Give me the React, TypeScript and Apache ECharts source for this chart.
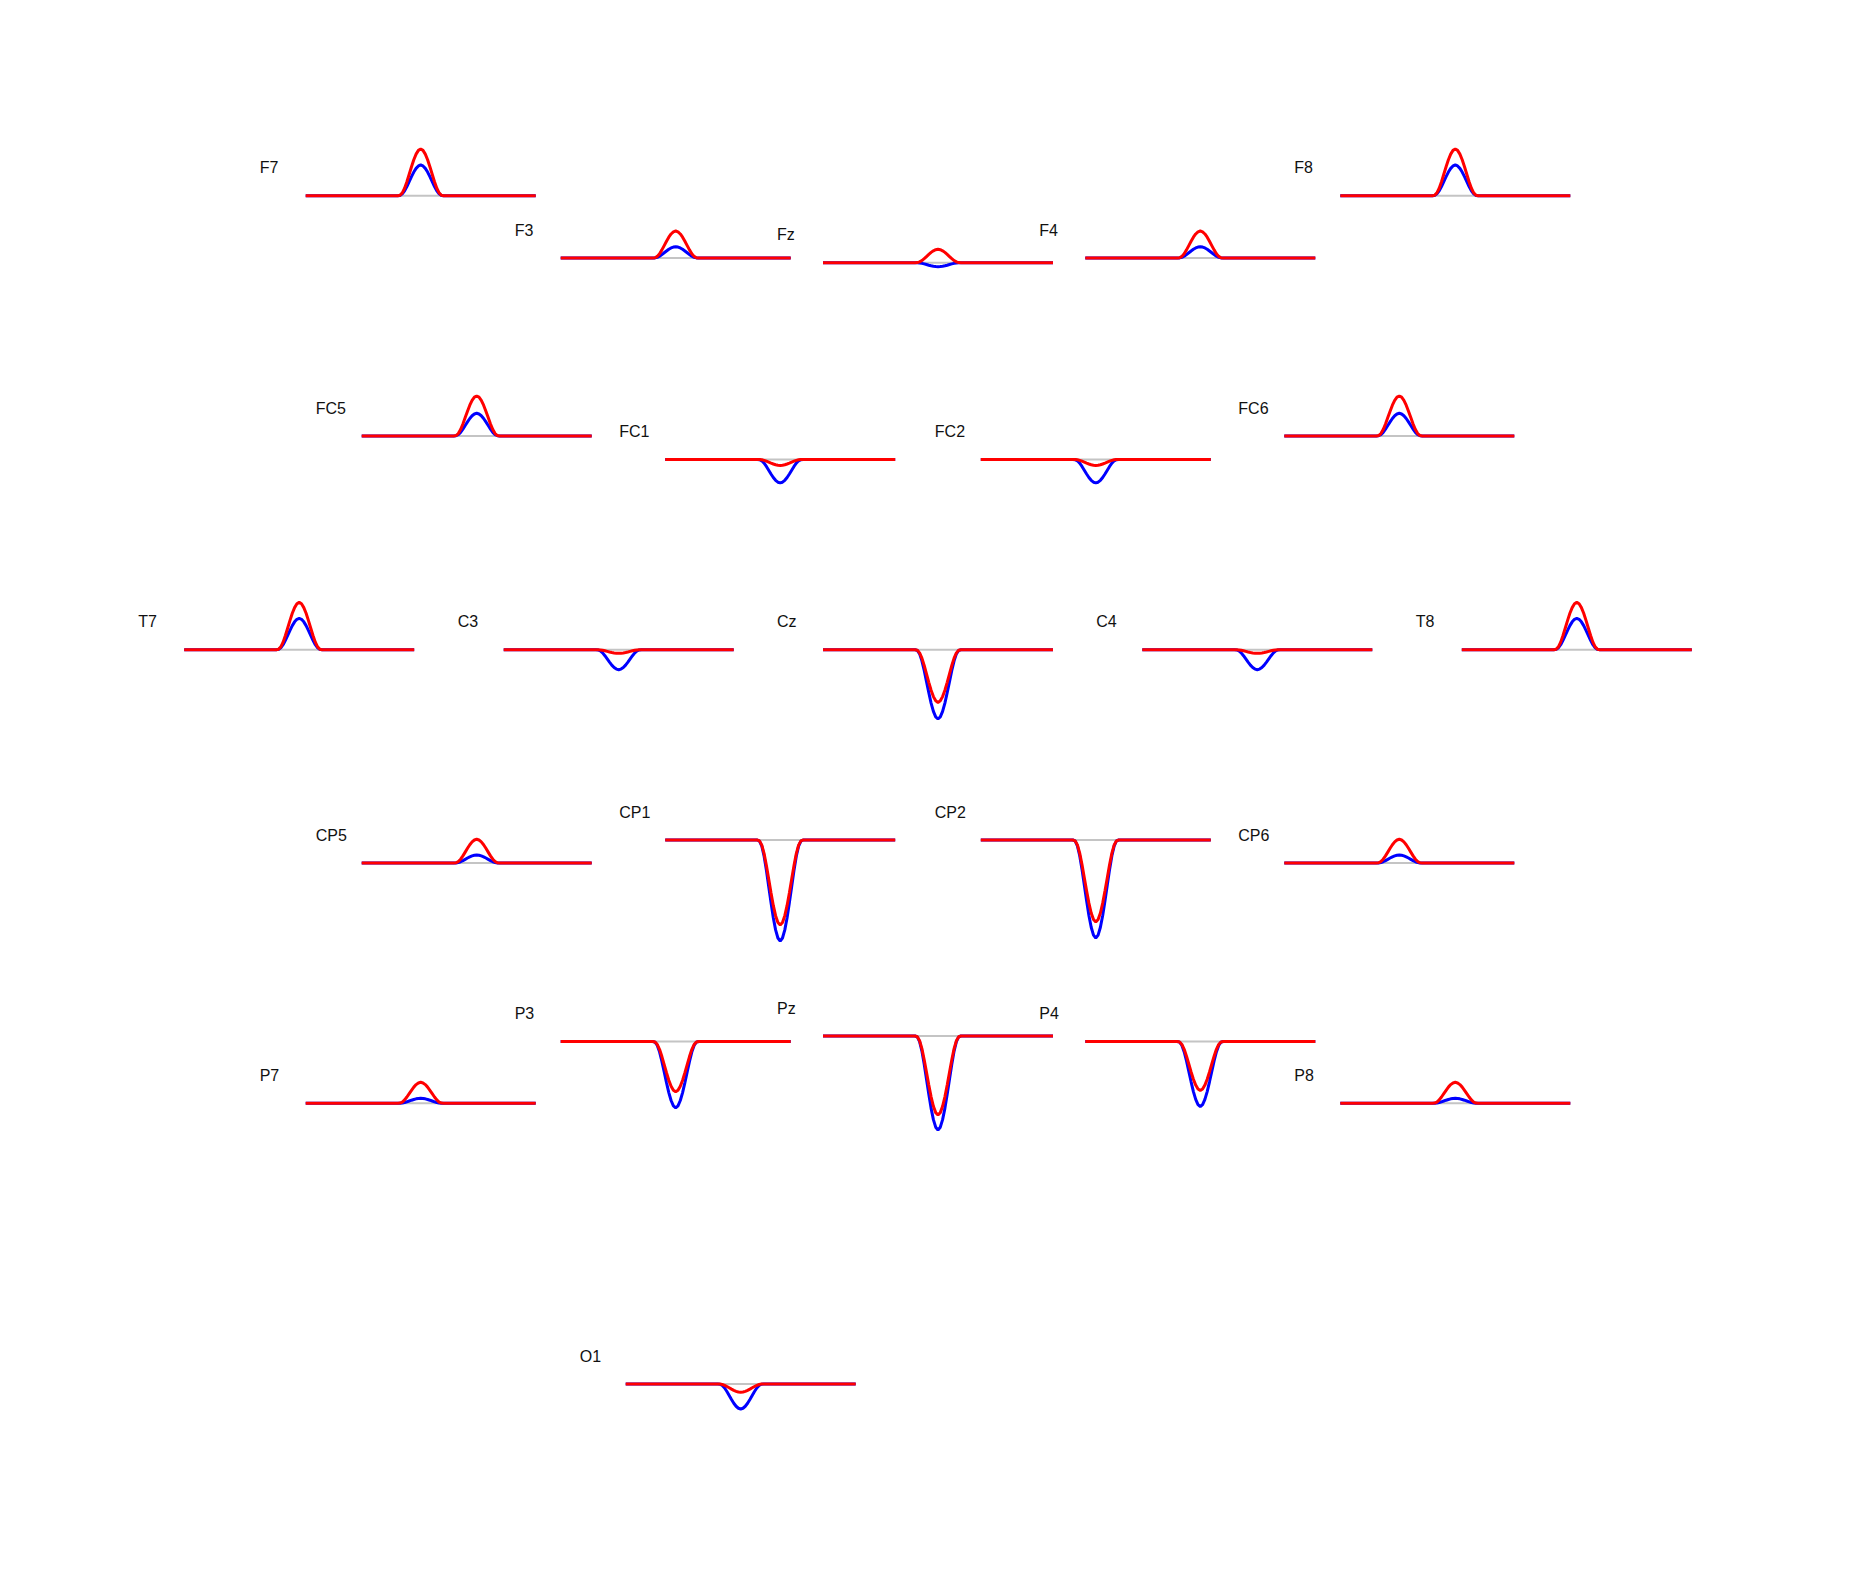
import React, { useEffect, useRef } from "react";
import * as echarts from "echarts";

// Channel names
const channels = [
  "F7", "F3", "Fz", "F4", "F8",
  "FC5", "FC1", "FC2", "FC6",
  "T7", "C3", "Cz", "C4", "T8",
  "CP5", "CP1", "CP2", "CP6",
  "P7", "P3", "Pz", "P4", "P8",
  "O1",
];

// Peak amplitude (µV) of each waveform
const redPeak = [
  4.67, 2.7, 1.34, 2.7, 4.67,
  4.0, -0.6, -0.6, 4.0,
  4.73, -0.36, -5.27, -0.36, 4.73,
  2.37, -8.5, -8.2, 2.37,
  2.1, -5.03, -7.9, -4.9, 2.1,
  -0.83,
];
const bluePeak = [
  3.07, 1.13, -0.4, 1.13, 3.07,
  2.27, -2.35, -2.35, 2.27,
  3.13, -2.0, -6.93, -2.0, 3.13,
  0.8, -10.1, -9.8, 0.8,
  0.5, -6.63, -9.4, -6.5, 0.5,
  -2.5,
];

// Time samples (s) and normalised waveform shape
const times = [
  -1, -0.2, -0.18, -0.16, -0.14, -0.12, -0.1, -0.08, -0.06, -0.04, -0.02,
  0, 0.02, 0.04, 0.06, 0.08, 0.1, 0.12, 0.14, 0.16, 0.18, 0.2, 1,
];
const shape = [
  0, 0, 0.01, 0.06, 0.16, 0.3, 0.46, 0.62, 0.77, 0.89, 0.97,
  1, 0.97, 0.89, 0.77, 0.62, 0.46, 0.3, 0.16, 0.06, 0.01, 0, 0,
];

// Layout: subplot centre x and baseline y (page px)
const layout: Record<string, [number, number]> = {
  F7: [420.7, 195.7], F3: [675.7, 258], Fz: [938, 262.7], F4: [1200.3, 258], F8: [1455.3, 195.7],
  FC5: [476.7, 436], FC1: [780.2, 459.4], FC2: [1095.8, 459.4], FC6: [1399.3, 436],
  T7: [299.2, 649.7], C3: [618.7, 649.7], Cz: [938, 649.7], C4: [1257.3, 649.7], T8: [1576.8, 649.7],
  CP5: [476.7, 863], CP1: [780.2, 840], CP2: [1095.8, 840], CP6: [1399.3, 863],
  P7: [420.7, 1103.3], P3: [675.7, 1041.5], Pz: [938, 1036], P4: [1200.3, 1041.5], P8: [1455.3, 1103.3],
  O1: [740.7, 1384],
};

const W = 1876;
const H = 1584;
const PLOT_W = 230;
const PX_PER_UV = 10;
const Y_RANGE = 12;

export default function App() {
  const ref = useRef<HTMLDivElement>(null);

  useEffect(() => {
    if (!ref.current) return;
    const chart = echarts.init(ref.current, undefined, { renderer: "svg", width: W, height: H });

    const grids: any[] = [];
    const xAxes: any[] = [];
    const yAxes: any[] = [];
    const series: any[] = [];
    const graphics: any[] = [];

    channels.forEach((ch, i) => {
      const [cx, by] = layout[ch];
      const left = cx - PLOT_W / 2;
      grids.push({
        left,
        top: by - Y_RANGE * PX_PER_UV,
        width: PLOT_W,
        height: 2 * Y_RANGE * PX_PER_UV,
        containLabel: false,
      });
      xAxes.push({ type: "value", gridIndex: i, min: -1, max: 1, show: false });
      yAxes.push({ type: "value", gridIndex: i, min: -Y_RANGE, max: Y_RANGE, show: false });
      series.push({
        type: "line",
        xAxisIndex: i,
        yAxisIndex: i,
        data: [[-1, 0], [1, 0]],
        symbol: "none",
        silent: true,
        z: 1,
        lineStyle: { color: "#c4c4c4", width: 2 },
      });
      series.push({
        type: "line",
        name: ch + " blue",
        xAxisIndex: i,
        yAxisIndex: i,
        data: times.map((t, k) => [t, shape[k] * bluePeak[i]]),
        symbol: "none",
        silent: true,
        z: 2,
        lineStyle: { color: "#0000ff", width: 3 },
      });
      series.push({
        type: "line",
        name: ch + " red",
        xAxisIndex: i,
        yAxisIndex: i,
        data: times.map((t, k) => [t, shape[k] * redPeak[i]]),
        symbol: "none",
        silent: true,
        z: 3,
        lineStyle: { color: "#ff0000", width: 3 },
      });
      graphics.push({
        type: "text",
        x: left - 46,
        y: by - 28,
        silent: true,
        style: {
          text: ch,
          fontSize: 16,
          fontFamily: "Liberation Sans, Arial, sans-serif",
          fill: "#111111",
          verticalAlign: "middle",
          align: "left",
        },
      });
    });

    chart.setOption({
      animation: false,
      backgroundColor: "#ffffff",
      grid: grids,
      xAxis: xAxes,
      yAxis: yAxes,
      series,
      graphic: graphics,
    });

    return () => chart.dispose();
  }, []);

  return (
    <div
      ref={ref}
      style={{ position: "absolute", left: 0, top: 0, width: W, height: H, background: "#fff" }}
    />
  );
}
